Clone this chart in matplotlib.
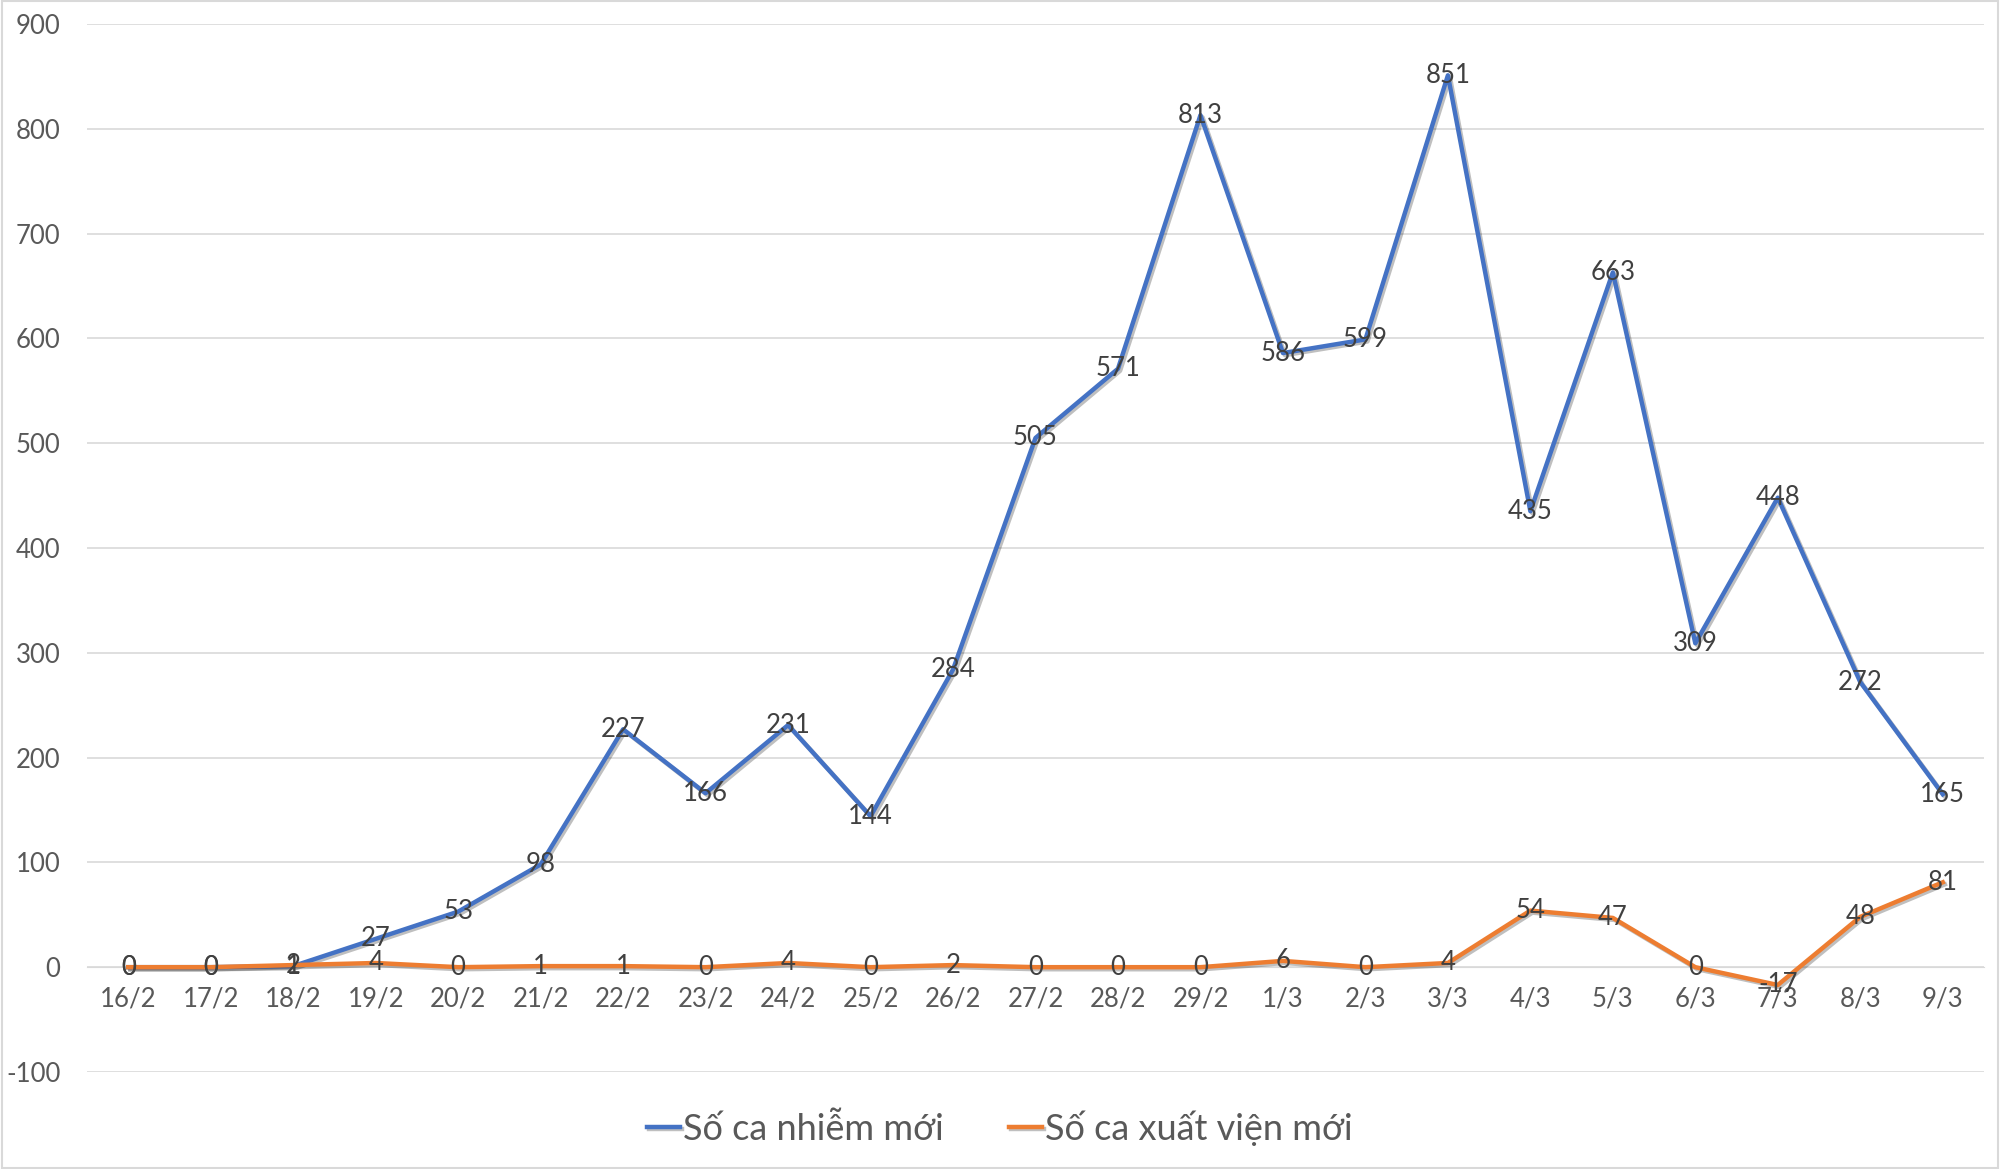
import matplotlib
matplotlib.use('Agg')
import matplotlib.pyplot as plt
import matplotlib.patheffects as pe
from matplotlib.patches import Rectangle

# Data
dates = ['16/2', '17/2', '18/2', '19/2', '20/2', '21/2', '22/2', '23/2', '24/2', '25/2',
         '26/2', '27/2', '28/2', '29/2', '1/3', '2/3', '3/3', '4/3', '5/3', '6/3',
         '7/3', '8/3', '9/3']
new_cases = [0, 0, 1, 27, 53, 98, 227, 166, 231, 144, 284, 505, 571, 813, 586, 599,
             851, 435, 663, 309, 448, 272, 165]
discharged = [0, 0, 2, 4, 0, 1, 1, 0, 4, 0, 2, 0, 0, 0, 6, 0, 4, 54, 47, 0, -17, 48, 81]
series_names = ['Số ca nhiễm mới', 'Số ca xuất viện mới']
yticks = list(range(-100, 1000, 100))

plt.rcParams['font.family'] = ['Lato', 'DejaVu Sans']
plt.rcParams['axes.unicode_minus'] = False

fig = plt.figure(figsize=(20, 11.69), dpi=100)
ax = fig.add_axes([0.0435, 0.083, 0.9485, 0.8965])

x = list(range(len(dates)))
shadow = [pe.SimpleLineShadow(offset=(1.5, -1.5), alpha=0.25), pe.Normal()]
ax.plot(x, new_cases, color='#4472C4', lw=3.2, label=series_names[0],
        path_effects=shadow, zorder=3)
ax.plot(x, discharged, color='#ED7D31', lw=3.2, label=series_names[1],
        path_effects=shadow, zorder=3)

# data labels, centred on points
for series in (new_cases, discharged):
    for i, v in enumerate(series):
        ax.text(i, v, str(v), ha='center', va='center', fontsize=18.5,
                color='#404040', zorder=4)

ax.set_xlim(-0.5, len(dates) - 0.5)
ax.set_ylim(-100, 900)
ax.set_yticks(yticks)
ax.set_xticks(x)
ax.set_xticklabels(dates)
ax.grid(axis='y', color='#d9d9d9', lw=1.2)
ax.set_axisbelow(True)
for s in ['top', 'right', 'left']:
    ax.spines[s].set_visible(False)
ax.spines['bottom'].set_position(('data', 0))
ax.spines['bottom'].set_color('#d9d9d9')
ax.tick_params(axis='both', length=0, labelsize=18.5, labelcolor='#595959')
ax.tick_params(axis='y', pad=19)
ax.tick_params(axis='x', pad=14)

leg = fig.legend(loc='center', bbox_to_anchor=(0.5, 0.035), ncol=2, frameon=False,
                 fontsize=26, handlelength=0.9, handletextpad=0.1, columnspacing=1.8)
for t in leg.get_texts():
    t.set_color('#595959')

fig.patches.append(Rectangle((0.001, 0.001), 0.998, 0.998, transform=fig.transFigure,
                             fill=False, edgecolor='#d9d9d9', lw=1.5))

fig.savefig('out.png', dpi=100)
